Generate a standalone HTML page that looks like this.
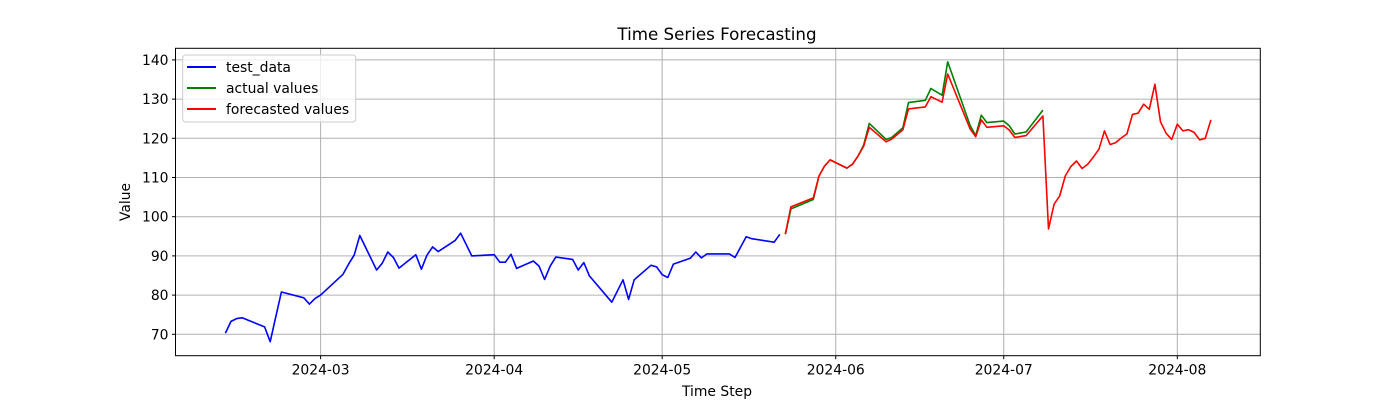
<!DOCTYPE html>
<html><head><meta charset="utf-8"><style>
html,body{margin:0;padding:0;background:#fff}
svg{display:block;font-family:"DejaVu Sans","Liberation Sans",sans-serif}
</style></head><body>
<svg id="chart" width="1400" height="400" viewBox="0 0 1400 400" xmlns="http://www.w3.org/2000/svg">
<rect x="0" y="0" width="1400" height="400" fill="#fff"/>
<g id="grid"></g>
<g id="series"></g>
<rect x="175.5" y="48.3" width="1084.8" height="307.4" fill="none" stroke="#000" stroke-width="1"/>
<g id="axes"></g>
<text x="717" y="40" font-size="16.7" text-anchor="middle" fill="#000">Time Series Forecasting</text>
<text x="717" y="396" font-size="13.9" text-anchor="middle" fill="#000">Time Step</text>
<text x="130" y="202" font-size="13.9" text-anchor="middle" fill="#000" transform="rotate(-90 130 202)">Value</text>
<g>
<rect x="182.7" y="55" width="173" height="67" rx="3" fill="#fff" fill-opacity="0.8" stroke="#ccc"/>
<line x1="187" y1="67" x2="216" y2="67" stroke="#0000ff" stroke-width="2"/>
<text x="226" y="72" font-size="13.9">test_data</text>
<line x1="187" y1="88" x2="216" y2="88" stroke="#008000" stroke-width="2"/>
<text x="226" y="93" font-size="13.9">actual values</text>
<line x1="187" y1="109" x2="216" y2="109" stroke="#ff0000" stroke-width="2"/>
<text x="226" y="114" font-size="13.9">forecasted values</text>
</g>
</svg>
<script>
// days since 2024-03-01
const testDays=[-17,-16,-15,-14,-10,-9,-8,-7,-3,-2,-1,0,4,5,6,7,10,11,12,13,14,17,18,19,20,21,24,25,27,31,32,33,34,35,38,39,40,41,42,45,46,47,48,52,54,55,56,59,60,61,62,63,66,67,68,69,73,74,76,77,81,82];
const testVals=[70.3,73.3,74.0,74.2,71.9,68.1,74.5,80.8,79.3,77.7,79.1,80.0,85.3,87.9,90.2,95.2,86.4,88.1,91.0,89.6,86.9,90.3,86.6,90.2,92.3,91.1,93.9,95.8,90.0,90.3,88.4,88.4,90.4,86.8,88.7,87.4,84.0,87.4,89.7,89.1,86.4,88.3,84.9,78.2,83.9,78.9,83.9,87.6,87.2,85.2,84.5,87.9,89.4,91.0,89.5,90.5,90.5,89.6,94.9,94.4,93.5,95.5];
const actualDays=[83,84,88,89,90,91,94,95,96,97,98,101,102,104,105,108,109,111,112,116,117,118,119,122,123,124,126,129];
const actualVals=[95.5,102.0,104.4,110.3,112.9,114.5,112.4,113.4,115.5,118.3,123.8,119.7,120.2,122.7,129.1,129.7,132.7,131.0,139.5,123.3,120.7,125.9,124.0,124.4,123.2,121.1,121.6,127.2];
const fcDays=[83,84,88,89,90,91,94,95,96,97,98,101,102,104,105,108,109,111,112,116,117,118,119,122,123,124,126,129,130,131,132,133,134,135,136,137,138,139,140,141,142,143,144,145,146,147,148,149,150,151,152,153,154,155,156,157,158,159];
const fcVals=[95.7,102.5,104.8,110.3,112.9,114.5,112.4,113.4,115.5,118.0,122.8,119.1,119.8,122.2,127.5,128.0,130.6,129.2,136.4,122.4,120.4,124.7,122.8,123.2,122.1,120.2,120.7,125.7,96.9,103.2,105.3,110.4,112.8,114.2,112.3,113.4,115.2,117.2,121.9,118.4,118.9,120.1,121.1,126.1,126.4,128.7,127.4,133.8,124.2,121.3,119.7,123.6,121.9,122.2,121.5,119.6,120.0,124.7];
const xTickDays=[0,31,61,92,122,153];
const xTickLabels=["2024-03","2024-04","2024-05","2024-06","2024-07","2024-08"];
const yTicks=[70,80,90,100,110,120,130,140];

const NS="http://www.w3.org/2000/svg";
const L=175.5,R=1260.3,T=48.3,B=355.7;
function xs(d){return 320.6+d*5.5994;}
function ys(v){return 334.3-(v-70)*3.92;}
function mk(tag,attrs,parent){const e=document.createElementNS(NS,tag);for(const k in attrs)e.setAttribute(k,attrs[k]);parent.appendChild(e);return e;}
const grid=document.getElementById('grid'),axes=document.getElementById('axes'),series=document.getElementById('series');
xTickDays.forEach((d,i)=>{
  const x=xs(d);
  const g=mk('line',{x1:x,y1:T,x2:x,y2:B,stroke:'#b0b0b0','stroke-width':1},grid);
  
  
  const t=mk('line',{x1:x,y1:B,x2:x,y2:B+3.5,stroke:'#000'},axes);
  
  
  const l=mk('text',{x:x,y:B+19,'font-size':13.9,'text-anchor':'middle'},axes);
  l.textContent=xTickLabels[i];
  
  
});
yTicks.forEach(v=>{
  const y=ys(v);
  const g=mk('line',{x1:L,y1:y,x2:R,y2:y,stroke:'#b0b0b0','stroke-width':1},grid);
  
  
  const t=mk('line',{x1:L-3.5,y1:y,x2:L,y2:y,stroke:'#000'},axes);
  
  
  const l=mk('text',{x:L-7,y:y+5,'font-size':13.9,'text-anchor':'end'},axes);
  l.textContent=v;
  
  
});
function line(days,vals,color,name){
  const pts=days.map((d,i)=>xs(d).toFixed(1)+','+ys(vals[i]).toFixed(1)).join(' ');
  const p=mk('polyline',{points:pts,fill:'none',stroke:color,'stroke-width':1.6,'stroke-linejoin':'round'},series);
  
  
}
line(testDays,testVals,'#0000ff','test-data-line');
line(actualDays,actualVals,'#008000','actual-values-line');
line(fcDays,fcVals,'#ff0000','forecasted-values-line');
</script>
</body></html>
